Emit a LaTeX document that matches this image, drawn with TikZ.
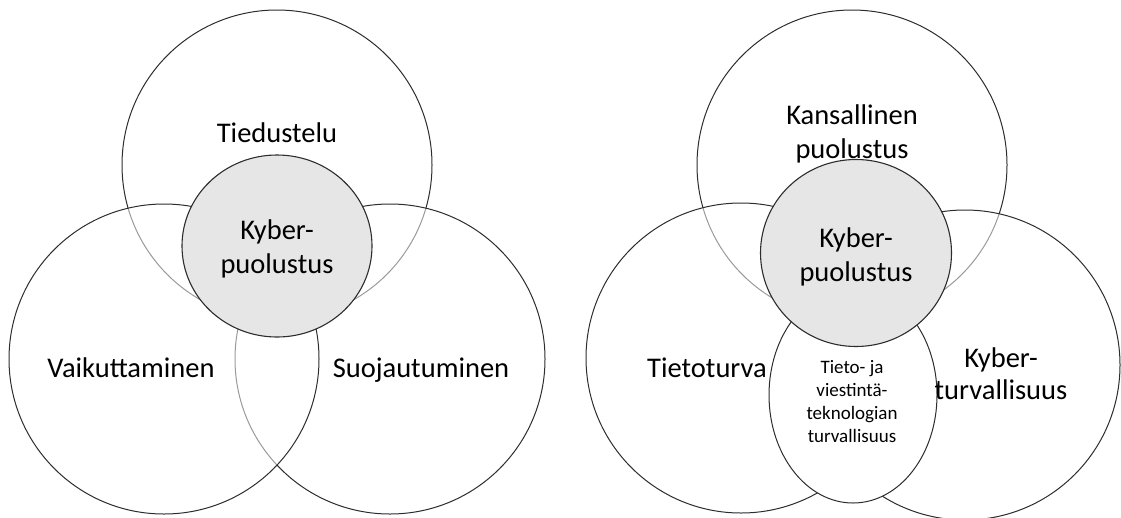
\documentclass[tikz,border=0pt]{standalone}
\usepackage{fontspec}
\setmainfont{Carlito}
\usetikzlibrary{shapes.geometric}
\definecolor{ln}{RGB}{45,45,45}
\definecolor{cfill}{RGB}{230,230,230}
\tikzset{
  outer/.style={circle, draw=ln, line width=1pt, fill=white, fill opacity=0.52, inner sep=0pt, outer sep=0pt, minimum size=310pt},
  core/.style={ellipse, draw=ln, line width=1.1pt, fill=cfill, inner sep=0pt, outer sep=0pt},
  inner/.style={ellipse, draw=ln, line width=1pt, fill=white, inner sep=0pt, outer sep=0pt},
  lbl/.style={anchor=base, inner sep=0pt, text=black, font=\fontsize{28.5pt}{34pt}\selectfont},
  slbl/.style={anchor=base, inner sep=0pt, text=black, font=\fontsize{19pt}{23pt}\selectfont}
}
\begin{document}
\begin{tikzpicture}[x=1pt, y=-1pt]
\useasboundingbox (0,0) rectangle (1121,517);
% ---------- left diagram ----------
\node[outer] (T1) at (277,165) {};
\node[outer] (R1) at (390,359) {};
\node[outer] (L1) at (164,359) {};
\node[core, minimum width=190pt, minimum height=182pt] (C1) at (277,246) {};
\node[lbl] (t1) at (277,142) {Tiedustelu};
\node[lbl] (v1) at (131,377) {Vaikuttaminen};
\node[lbl] (s1) at (421,377) {Suojautuminen};
\node[lbl] (k1a) at (277,239) {Kyber-};
\node[lbl] (k1b) at (277,273) {puolustus};
% ---------- right diagram ----------
\node[outer] (T2) at (852,165) {};
\node[outer] (R2) at (965,365) {};
\node[outer] (L2) at (741,358) {};
\node[inner, minimum width=168pt, minimum height=216pt] (E2) at (853,395) {};
\node[core, minimum width=191pt, minimum height=187pt] (C2) at (856,253) {};
\node[lbl] (n2a) at (852,124) {Kansallinen};
\node[lbl] (n2b) at (852,158) {puolustus};
\node[lbl] (k2a) at (856,247) {Kyber-};
\node[lbl] (k2b) at (856,281) {puolustus};
\node[lbl] (tt2) at (707,377) {Tietoturva};
\node[lbl] (ky2a) at (1001,367) {Kyber-};
\node[lbl] (ky2b) at (1001,399) {turvallisuus};
\node[slbl] (e2a) at (852,373) {Tieto- ja};
\node[slbl] (e2b) at (852,396) {viestintä-};
\node[slbl] (e2c) at (852,419) {teknologian};
\node[slbl] (e2d) at (852,442) {turvallisuus};
\end{tikzpicture}
\end{document}
